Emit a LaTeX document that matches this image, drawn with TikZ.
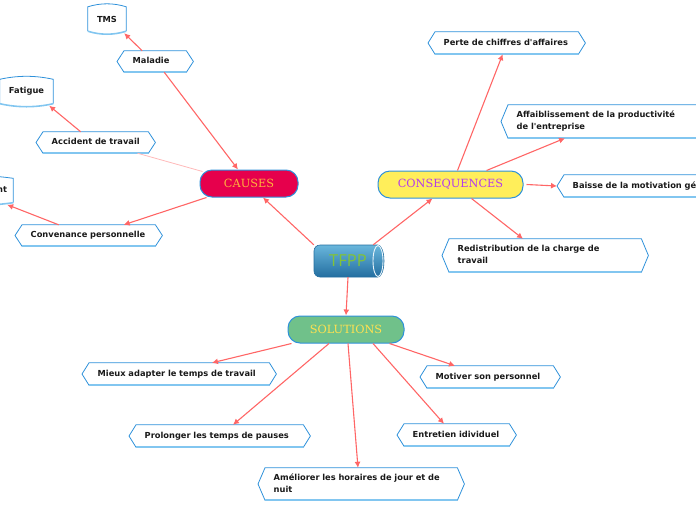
\documentclass[tikz,border=0pt]{standalone}
\usepackage{fontspec}
\setmainfont{DejaVu Sans}
\newfontfamily\leaffont{DejaVu Sans}
\newfontfamily\topicfont{DejaVu Serif}
\newfontfamily\tfppfont{Open Sans}
\usetikzlibrary{arrows.meta,calc}

\definecolor{edge}{RGB}{255,102,102}
\definecolor{edgefaint}{RGB}{255,185,185}
\definecolor{bord}{RGB}{46,145,218}
\definecolor{bordlight}{RGB}{130,198,240}
\definecolor{causesfill}{RGB}{230,0,76}
\definecolor{causestext}{RGB}{255,178,60}
\definecolor{consfill}{RGB}{255,238,90}
\definecolor{constext}{RGB}{180,60,235}
\definecolor{solfill}{RGB}{112,193,138}
\definecolor{soltext}{RGB}{255,225,80}
\definecolor{tfpptext}{RGB}{130,195,55}
\definecolor{cyltop}{RGB}{105,182,220}
\definecolor{cylbot}{RGB}{35,110,160}

\tikzset{
 leaf/.style={anchor=west, inner xsep=15.5pt, inner ysep=0pt, align=left,
   font=\leaffont\fontsize{8.3}{12}\selectfont\bfseries, text=black!90},
 bannernode/.style={inner sep=0pt, minimum height=24pt,
   font=\leaffont\fontsize{8.3}{12}\selectfont\bfseries, text=black!90},
 leafline/.style={draw=bord, line width=0.8pt},
 leafbottom/.style={draw=bordlight, line width=1.6pt},
 topic/.style={rounded corners=12pt, draw=bord, line width=1pt, minimum height=27pt,
   inner sep=0pt, font=\topicfont\fontsize{11.3}{13}\selectfont},
 link/.style={draw=edge, line width=1.1pt, -{Latex[length=6pt,width=6pt]}},
 faint/.style={draw=edgefaint, line width=0.8pt},
}

\newcommand\hexleaf[6]{%
 \pgfmathsetmacro\leafTW{#4-31}%
 \node[leaf, text width=\leafTW pt, minimum height=#5pt] (#1) at (#2,#3)
   {\begin{tabular}{@{}l@{}}#6\end{tabular}};
 \draw[leafline] (#1.west) -- ([xshift=7pt]#1.north west) -- ([xshift=-7pt]#1.north east)
   -- (#1.east) -- ([xshift=-7pt]#1.south east) -- ([xshift=7pt]#1.south west) -- cycle;
 \draw[leafbottom] ([xshift=7pt]#1.south west) -- ([xshift=-7pt]#1.south east);
}

\newcommand\bannerleaf[5]{%
 \node[bannernode, minimum width=#4pt] (#1) at (#2,#3) {#5};
 \draw[leafline] (#1.south west) -- (#1.north west)
   .. controls ([xshift=#4pt/3, yshift=4pt]#1.north west) and ([xshift=-#4pt/3, yshift=4pt]#1.north east) .. (#1.north east)
   -- (#1.south east);
 \draw[leafbottom] (#1.south east)
   .. controls ([xshift=-#4pt/3, yshift=-4pt]#1.south east) and ([xshift=#4pt/3, yshift=-4pt]#1.south west) .. (#1.south west);
}

\begin{document}
\begin{tikzpicture}[x=1pt,y=-1pt]
\useasboundingbox (0,0) rectangle (696,520);

% central cylinder
\shade[top color=cyltop, bottom color=cylbot, draw=cylbot, line width=0.6pt]
  (320,245) -- (378,245) arc[start angle=90, end angle=-90, x radius=6pt, y radius=16pt]
  -- (320,277) arc[start angle=270, end angle=180, radius=6pt]
  -- (314,251) arc[start angle=180, end angle=90, radius=6pt] -- cycle;
\shade[top color=cyltop, bottom color=cylbot] (378,261) ellipse [x radius=5pt, y radius=15.5pt];
\draw[white!85!cyltop, line width=0.9pt] (378,261) ellipse [x radius=5pt, y radius=15.5pt];
\node[text=tfpptext, font=\tfppfont\fontsize{16.5}{18}\selectfont, minimum width=68pt,
  minimum height=32pt, inner sep=0pt] (tfpp) at (348,261) {TFPP};

% main topics
\node[topic, fill=causesfill, text=causestext, minimum width=98pt] (causes) at (249,183.5) {CAUSES};
\node[topic, fill=consfill, text=constext, minimum width=145pt] (conseq) at (450.5,184.5) {CONSEQUENCES};
\node[topic, fill=solfill, text=soltext, minimum width=116pt] (solutions) at (346,329.5) {SOLUTIONS};

% leaves
\hexleaf{maladie}{117}{61.5}{76}{21}{Maladie}
\hexleaf{accident}{36}{142.5}{119}{21}{Accident de travail}
\hexleaf{convenance}{15}{235.5}{147}{21}{Convenance personnelle}
\hexleaf{perte}{428}{43}{157}{22}{Perte de chiffres d'affaires}
\hexleaf{affaib}{501}{121.5}{230}{33}{Affaiblissement de la productivité\\de l'entreprise}
\hexleaf{baisse}{557}{186}{200}{22}{Baisse de la motivation générale}
\hexleaf{redis}{442}{255.5}{206}{33}{Redistribution de la charge de\\travail}
\hexleaf{mieux}{82}{374}{194}{22}{Mieux adapter le temps de travail}
\hexleaf{motiver}{420}{377}{140}{22}{Motiver son personnel}
\hexleaf{prolonger}{129}{436}{181}{22}{Prolonger les temps de pauses}
\hexleaf{entretien}{397}{435}{119}{22}{Entretien idividuel}
\hexleaf{ameliorer}{258}{484}{206}{32}{Améliorer les horaires de jour et de\\nuit}

\bannerleaf{tms}{107}{19}{38}{TMS}
\bannerleaf{fatigue}{26.5}{91.5}{53}{Fatigue}
\bannerleaf{nt}{-30}{190.5}{86}{Déménagement}

% connectors
\draw[link] (tfpp.north west) -- ([xshift=14pt]causes.south);
\draw[link] ([xshift=-9pt]tfpp.north east) -- ([xshift=-18pt]conseq.south);
\draw[link] (tfpp.south) -- (solutions.north);
\draw[link] ([xshift=9pt]maladie.south) -- ([xshift=-11pt]causes.north);
\draw[faint] ([xshift=-18pt]accident.south east) -- ([xshift=3pt,yshift=-2pt]causes.north west);
\draw[link] ([xshift=-15pt]accident.north) -- ([xshift=-4pt,yshift=-2pt]fatigue.south east);
\draw[link] ([xshift=-13pt]maladie.north) -- ([xshift=-2pt,yshift=-2pt]tms.south east);
\draw[link] ([xshift=7pt]causes.south west) -- ([xshift=35pt]convenance.north);
\draw[link] ([xshift=-30pt]convenance.north) -- ([xshift=-6pt,yshift=-2pt]nt.south east);
\draw[link] ([xshift=7pt]conseq.north) -- ([xshift=-4pt]perte.south);
\draw[link] ([xshift=36pt]conseq.north) -- ([xshift=64pt]affaib.south west);
\draw[link] ([xshift=3pt]conseq.east) -- (baisse.west);
\draw[link] ([xshift=21pt]conseq.south) -- ([xshift=81pt]redis.north west);
\draw[link] ([xshift=4pt]solutions.south west) -- ([xshift=130pt]mieux.north west);
\draw[link] ([xshift=-17pt]solutions.south) -- ([xshift=104pt]prolonger.north west);
\draw[link] ([xshift=2pt]solutions.south) -- ([xshift=100pt]ameliorer.north west);
\draw[link] ([xshift=27pt]solutions.south) -- ([xshift=47pt]entretien.north west);
\draw[link] ([xshift=-15pt]solutions.south east) -- ([xshift=35pt]motiver.north west);
\end{tikzpicture}
\end{document}
